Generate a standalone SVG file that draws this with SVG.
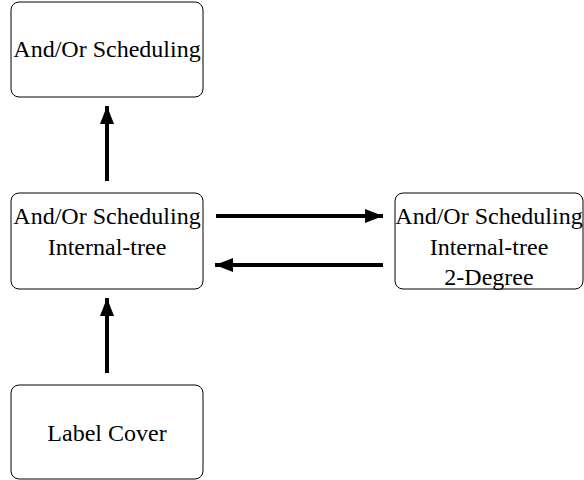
<svg xmlns="http://www.w3.org/2000/svg" width="584" height="480" viewBox="0 0 584 480">
<style>
.box{fill:#fff;stroke:#000;stroke-width:1}
.lbl{font-family:'Liberation Serif','Times New Roman',serif;font-size:24px;fill:#000;text-anchor:middle}
.c{stroke:#000;stroke-width:4;fill:none;marker-end:url(#ah)}
</style>
<defs>
<marker id="ah" markerUnits="userSpaceOnUse" markerWidth="20" markerHeight="14" refX="18" refY="7" orient="auto">
<path d="M0,0 L18,7 L0,14 Z" fill="#000"/>
</marker>
</defs>
<rect width="584" height="480" fill="#fff"/>
<g id="n1"><rect class="box" x="11" y="2" width="192" height="95" rx="8"/><text class="lbl" x="107" y="57">And/Or Scheduling</text></g>
<g id="n2"><rect class="box" x="11" y="193" width="192" height="96" rx="8"/><text class="lbl" x="107" y="224">And/Or Scheduling</text><text class="lbl" x="107" y="255">Internal-tree</text></g>
<g id="n3"><rect class="box" x="395" y="193" width="188" height="96" rx="8"/><text class="lbl" x="489" y="224">And/Or Scheduling</text><text class="lbl" x="489" y="255">Internal-tree</text><text class="lbl" x="489" y="285">2-Degree</text></g>
<g id="n4"><rect class="box" x="11" y="385" width="192" height="94" rx="8"/><text class="lbl" x="107" y="441">Label Cover</text></g>
<g id="connectors">
<line class="c" x1="107" y1="181" x2="107" y2="106"/>
<line class="c" x1="107" y1="373" x2="107" y2="298"/>
<line class="c" x1="216" y1="216" x2="383" y2="216"/>
<line class="c" x1="383" y1="265" x2="215" y2="265"/>
</g>
</svg>
